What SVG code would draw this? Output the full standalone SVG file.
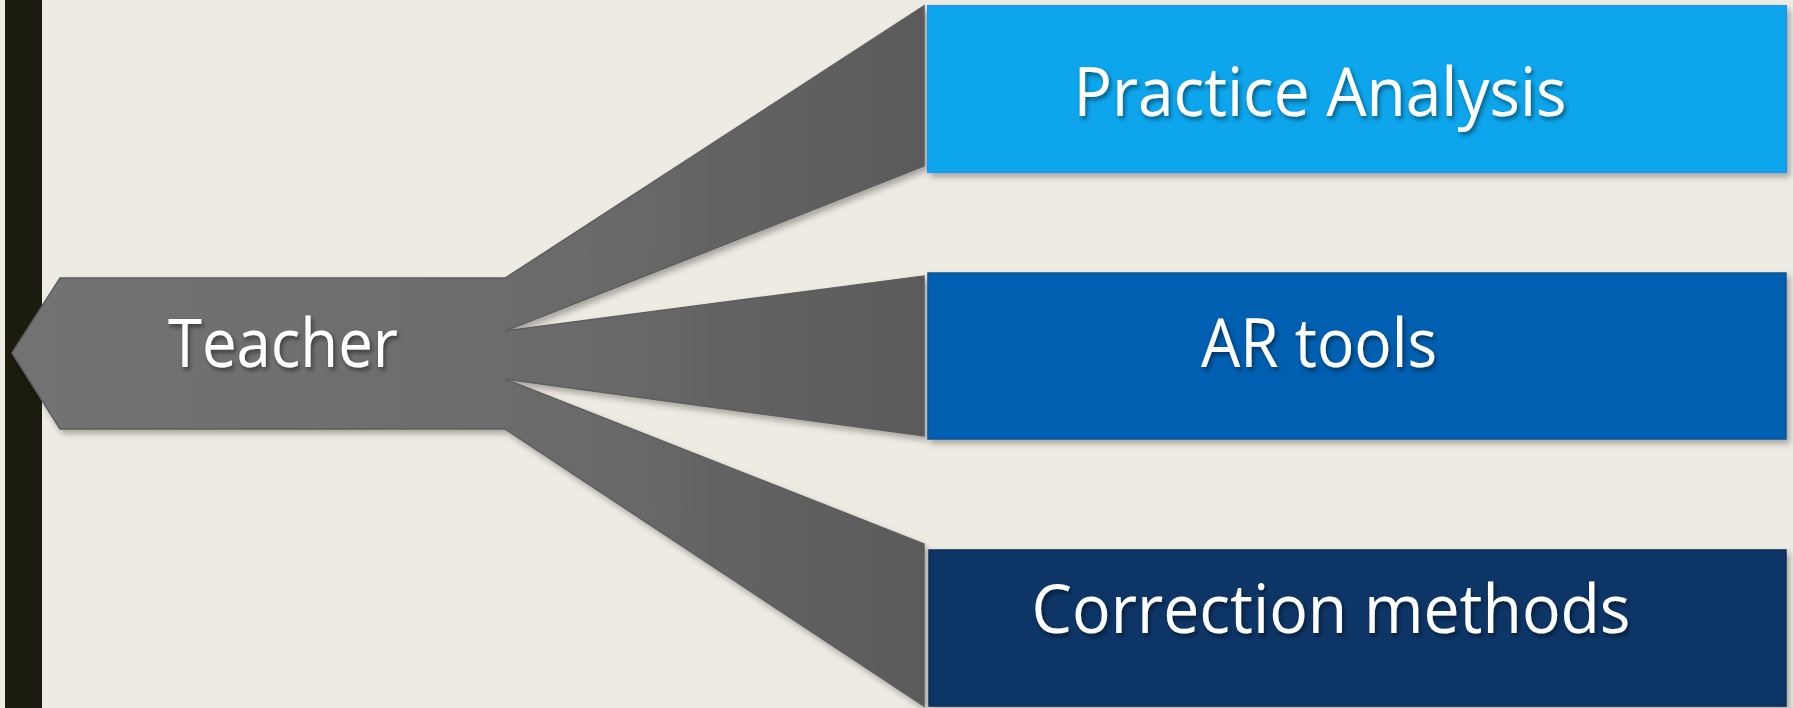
<svg xmlns="http://www.w3.org/2000/svg" width="1793" height="708" viewBox="0 0 1793 708">
<defs>
<style>
.lbl{font-family:"Open Sans","Liberation Sans",sans-serif;font-size:67px;fill:#ffffff;text-anchor:middle;filter:url(#tsh);}
.shape-stroke{fill:none;stroke:#5e5e5e;stroke-width:1.5;stroke-linejoin:miter;}
.fan{fill:url(#gr);stroke:#5e5e5e;stroke-width:1.5;}
</style>
<linearGradient id="gr" gradientUnits="userSpaceOnUse" x1="12" y1="0" x2="924" y2="0">
<stop offset="0" stop-color="#737373"/>
<stop offset="0.6" stop-color="#6b6b6b"/>
<stop offset="1" stop-color="#5a5a5a"/>
</linearGradient>
<filter id="sh" x="-5%" y="-5%" width="115%" height="115%">
<feDropShadow dx="3" dy="4" stdDeviation="3" flood-color="#000" flood-opacity="0.3"/>
</filter>
<filter id="tsh" x="-10%" y="-20%" width="120%" height="150%">
<feDropShadow dx="2" dy="3" stdDeviation="2" flood-color="#000" flood-opacity="0.45"/>
</filter>
</defs>
<rect x="0" y="0" width="1793" height="708" fill="#eeebe3"/>
<rect id="bar" x="5" y="0" width="37" height="708" fill="#1b1b10"/>

<g filter="url(#sh)">
<g id="connectors">
<polygon class="fan" points="490,288 924,6 924,166 490,337"/>
<polygon class="fan" points="490,333 924,276 924,436 490,377"/>
<polygon class="fan" points="490,373 924,544 924,706 490,419"/>
</g>
<g id="teacher">
<polygon points="12,353 60,278 505,278 505,429 60,429" fill="url(#gr)"/>
<path class="shape-stroke" d="M505,278 L60,278 L12,353 L60,429 L505,429"/>
<text class="lbl" x="283" y="367" textLength="230" lengthAdjust="spacingAndGlyphs">Teacher</text>
</g>
</g>

<g id="practice-analysis" filter="url(#sh)">
<rect x="928" y="6" width="858" height="166" fill="#0ba5ec" stroke="#1799f5" stroke-width="2"/>
</g>
<text class="lbl" x="1320" y="116" textLength="493" lengthAdjust="spacingAndGlyphs">Practice Analysis</text>

<g id="ar-tools" filter="url(#sh)">
<rect x="928" y="273" width="858" height="166" fill="#055fb0" stroke="#0b5192" stroke-width="1.5"/>
</g>
<text class="lbl" x="1319" y="367" textLength="236" lengthAdjust="spacingAndGlyphs">AR tools</text>

<g id="correction-methods" filter="url(#sh)">
<rect x="929" y="550" width="857" height="156" fill="#0b3566" stroke="#0a2d57" stroke-width="1.5"/>
</g>
<text class="lbl" x="1331" y="633" textLength="599" lengthAdjust="spacingAndGlyphs">Correction methods</text>
</svg>
